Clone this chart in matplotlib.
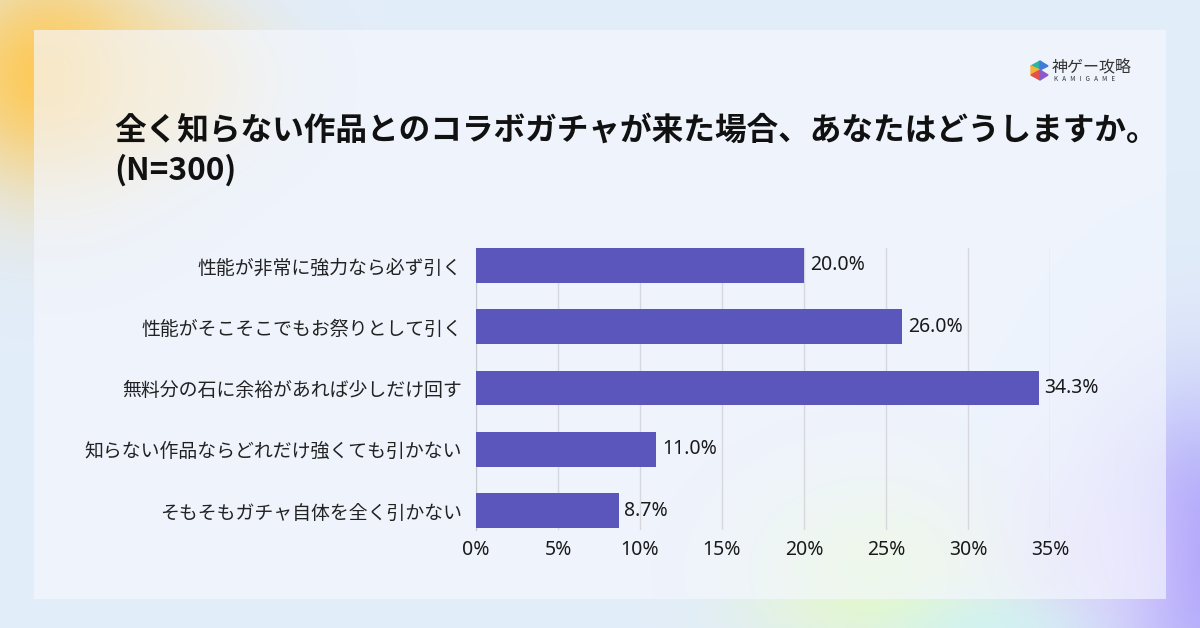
import matplotlib.pyplot as plt
import numpy as np
from matplotlib.patches import Polygon

plt.rcParams['font.family'] = ['Noto Sans CJK JP', 'DejaVu Sans']

# data
answers = [
    '性能が非常に強力なら必ず引く',
    '性能がそこそこでもお祭りとして引く',
    '無料分の石に余裕があれば少しだけ回す',
    '知らない作品ならどれだけ強くても引かない',
    'そもそもガチャ自体を全く引かない',
]
shares = [20.0, 26.0, 34.3, 11.0, 8.7]
x_ticks = [0, 5, 10, 15, 20, 25, 30, 35]
title = '全く知らない作品とのコラボガチャが来た場合、あなたはどうしますか。\n(N=300)'

W, H = 1200, 628
fig = plt.figure(figsize=(W / 100, H / 100), dpi=100)

# background: soft blobs + translucent card
yy, xx = np.mgrid[0:H, 0:W]
img = np.ones((H, W, 3)) * np.array([0.886, 0.930, 0.980])

def blob(cx, cy, rx, ry, color, strength):
    global img
    w = strength * np.exp(-(((xx - cx) / rx) ** 2 + ((yy - cy) / ry) ** 2) / 2)
    img = img * (1 - w[..., None]) + np.array(color) * w[..., None]

blob(50, 75, 80, 80, [1.0, 0.78, 0.30], 0.95)
blob(170, 80, 70, 50, [1.0, 0.86, 0.55], 0.6)
blob(1200, 560, 70, 110, [0.64, 0.60, 0.98], 0.95)
blob(1090, 560, 80, 70, [0.86, 0.80, 1.0], 0.75)
blob(880, 570, 90, 65, [0.90, 0.98, 0.76], 0.9)
blob(990, 630, 70, 30, [0.80, 0.96, 0.95], 0.7)

card = (xx >= 34) & (xx <= 1165) & (yy >= 30) & (yy <= 598)
card_col = np.array([0.957, 0.968, 0.996])
img[card] = img[card] * 0.33 + card_col * 0.67

bg = fig.add_axes([0, 0, 1, 1])
bg.imshow(img, extent=[0, W, H, 0], aspect='auto', zorder=0)
bg.set_xlim(0, W)
bg.set_ylim(H, 0)
bg.axis('off')

# logo
bg.add_patch(Polygon([[1031, 66], [1040, 61], [1040, 70]], color='#2BB3A3', zorder=2))
bg.add_patch(Polygon([[1040, 61], [1048, 66], [1040, 70]], color='#3F7BD9', zorder=2))
bg.add_patch(Polygon([[1031, 66], [1040, 70], [1031, 75]], color='#F4B43A', zorder=2))
bg.add_patch(Polygon([[1031, 75], [1040, 70], [1040, 80]], color='#E2524C', zorder=2))
bg.add_patch(Polygon([[1040, 70], [1048, 75], [1040, 80]], color='#8A5CC8', zorder=2))
bg.text(1052, 67, '神ゲー攻略', fontsize=11.5, color='#333333', va='center', ha='left', zorder=3)
bg.text(1054, 79, 'K   A   M   I   G   A   M   E', fontsize=4.6, color='#333333',
        va='center', ha='left', zorder=3)

# title
bg.text(114, 151, title, fontsize=22.8, fontweight='bold', color='#111111',
        va='center', ha='left', linespacing=1.3, zorder=3)

# chart
ax = fig.add_axes([476 / W, 1 - 530 / H, (1050 - 476) / W, (530 - 248) / H])
ax.patch.set_alpha(0)
pos = np.arange(len(answers))
bars = ax.barh(pos, shares, height=0.57, color='#5A56BC', zorder=3)
ax.set_ylim(4.318, -0.285)
ax.set_xlim(0, 35)
ax.set_xticks(x_ticks)
ax.set_xticklabels([f'{t}%' for t in x_ticks], fontsize=14, color='#1A1A1A',
                   family=['Noto Sans', 'DejaVu Sans'])
ax.set_yticks(pos)
ax.set_yticklabels(answers, fontsize=13.6, color='#222222')
ax.tick_params(axis='x', length=0, pad=7)
ax.tick_params(axis='y', length=0, pad=10)
ax.grid(axis='x', color='#D6D8DE', linewidth=1, zorder=0)
for s in ['top', 'right', 'bottom']:
    ax.spines[s].set_visible(False)
ax.spines['left'].set_color('#C9CBD2')
for b, v in zip(bars, shares):
    ax.text(b.get_width() + 0.35, b.get_y() + b.get_height() / 2, f'{v:.1f}%',
            va='center', ha='left', fontsize=14, color='#1A1A1A',
            family=['Noto Sans', 'DejaVu Sans'])

fig.savefig('out.png', dpi=100)
